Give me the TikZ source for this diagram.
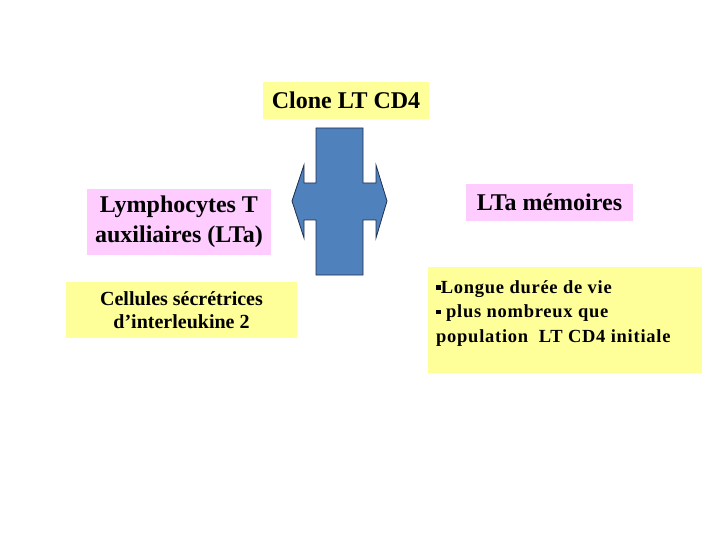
\documentclass[tikz,border=0pt]{standalone}
\usepackage{fontspec}
\setmainfont{Liberation Serif}
\newfontfamily\spacedserif[LetterSpace=4.0]{Liberation Serif}
\definecolor{paleyel}{HTML}{FFFF99}
\definecolor{palepink}{HTML}{FFCCFF}
\definecolor{crossfill}{HTML}{4F81BD}
\definecolor{crossline}{HTML}{1F3050}
\newcommand{\sqbullet}{\rule[0.18em]{0.25em}{0.25em}}
\begin{document}
\begin{tikzpicture}[x=1pt,y=-1pt,
  yelbox/.style={fill=paleyel, draw=none, inner sep=0pt, align=center},
  pinkbox/.style={fill=palepink, draw=none, inner sep=0pt, align=center},
  bigfont/.style={font=\fontsize{24}{30}\selectfont\bfseries},
  midfont/.style={font=\fontsize{20}{23.5}\selectfont\bfseries},
  smallfont/.style={font=\spacedserif\fontsize{18.5}{24.7}\selectfont\bfseries}]
\useasboundingbox (0,0) rectangle (720,540);
\fill[white] (0,0) rectangle (720,540);
\node[yelbox, bigfont, minimum width=166pt, minimum height=37pt] (clone) at (346,100.5) {Clone LT CD4};
\node[pinkbox, bigfont, minimum width=184pt, minimum height=65pt] (lympho) at (179,222) {Lymphocytes T\\auxiliaires (LTa)};
\node[yelbox, midfont, minimum width=231pt, minimum height=56pt] (cell) at (181.5,310) {Cellules sécrétrices\\d’interleukine 2};
\node[pinkbox, bigfont, minimum width=167pt, minimum height=37pt] (lta) at (549.5,202.5) {LTa mémoires};
\node[yelbox, minimum width=274pt, minimum height=106pt] (big) at (565,320) {};
\node[smallfont, anchor=north west, align=left, inner sep=0pt] (bigtxt) at (436,280)
 {\sqbullet Longue durée de vie\\\sqbullet\ plus nombreux que\\population~~LT CD4 initiale};
\draw[fill=crossfill, draw=crossline, line width=0.8pt, line join=miter]
 (316,128) -- (363,128) -- (363,183) -- (376,183) -- (376,165) -- (387,201)
 -- (376,238) -- (376,220) -- (363,220) -- (363,275) -- (316,275) -- (316,220)
 -- (304,220) -- (304,238) -- (292,201) -- (304,165) -- (304,183) -- (316,183) -- cycle;
\end{tikzpicture}
\end{document}
